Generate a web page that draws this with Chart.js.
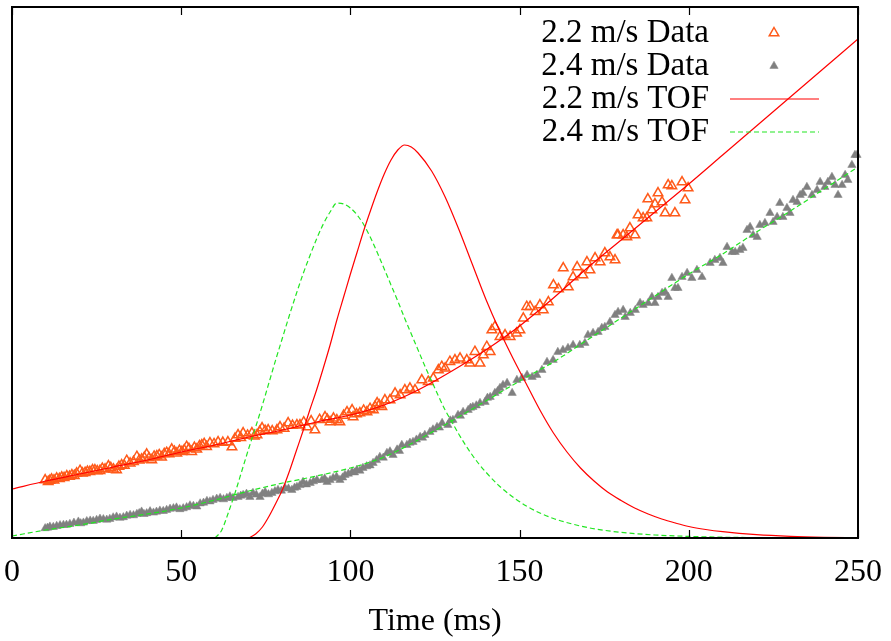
<!DOCTYPE html>
<html>
<head>
<meta charset="utf-8">
<script src="https://cdn.jsdelivr.net/npm/chart.js@4.4.1/dist/chart.umd.min.js"></script>
<style>
  html, body { margin: 0; padding: 0; background: #fff; }
  #c { display: block; }
</style>
</head>
<body>
<canvas id="c" width="891" height="641"></canvas>
<script>
// ---- tick labels / categories ----
const xTicks = [0, 50, 100, 150, 200, 250];
const xTitle = 'Time (ms)';
const seriesNames = ['2.2 m/s Data', '2.4 m/s Data', '2.2 m/s TOF', '2.4 m/s TOF'];

// ---- 2.2 m/s data (open triangles) ----
const data22X = [9.8,10.7,11.2,11.7,12.4,13.2,14.0,14.7,15.4,16.2,17.0,17.7,18.4,19.1,20.1,20.8,21.6,22.3,23.0,23.8,24.5,25.2,26.0,26.7,27.5,28.5,29.2,30.0,30.9,31.6,32.4,33.2,33.9,34.9,35.9,36.9,37.6,38.3,39.1,39.8,40.5,41.3,42.0,42.8,43.5,44.2,45.0,45.7,46.4,47.2,48.0,48.7,49.5,50.2,50.9,51.6,52.3,53.1,53.9,54.6,55.4,56.1,56.8,57.5,58.5,59.7,60.9,62.3,63.8,65.0,65.9,66.8,67.6,68.3,69.6,70.9,71.6,72.4,73.2,73.9,74.8,75.7,76.9,78.3,79.2,80.4,81.6,82.9,84.2,85.1,86.2,87.2,88.4,89.5,90.9,92.5,93.2,94.0,95.0,96.0,96.9,98.0,99.0,100.5,100.8,101.8,102.8,103.9,104.9,105.8,106.8,107.3,107.9,108.5,109.3,110.2,111.7,113.2,114.7,116.1,117.6,119.1,121.1,123.0,124.5,126.0,127.0,128.0,129.4,130.9,132.4,134.4,135.3,136.8,138.3,139.3,140.3,141.3,141.8,142.7,144.2,145.7,147.2,149.1,150.1,151.1,152.1,153.1,154.6,156.0,157.0,158.5,160.0,161.5,162.9,164.4,165.8,167.0,168.7,169.9,170.8,172.3,173.8,175.2,176.7,178.2,178.8,179.1,180.6,181.7,182.6,184.1,185.0,186.5,187.6,187.9,189.1,190.0,190.9,192.1,193.0,193.9,195.0,195.9,198.0,198.9,199.8];
const data22Y = [58,56.3,57.5,58.7,57.8,59.7,59.2,60.7,60.2,62,61.5,63,62.3,64.7,67.3,64.8,65.3,66.5,66.3,67.9,68,67,67.3,69.5,68.7,72,70.2,68.7,68,71.5,73,72.4,77.3,74.7,76.2,81.3,77.8,78.7,80.5,83.7,79.9,78,81.6,82,83.1,80.7,84.2,85.3,84,88.7,86.5,84.7,87.4,86.3,88,91.3,89.2,86.3,90.5,88.7,92.1,93,94.2,91.3,95,94.1,96,95.4,96,91,99.4,103,100.2,105,102.6,105,101.8,103,106.4,110,107.3,108,106.9,108,111,109.6,115,112.4,113,113,115.8,111,116.9,108,118.3,121,118.5,116,119.7,118,116,122.4,126,128,121,123.9,125,127.6,126,129.3,128,131.5,135,133,131.3,138,138,144.7,143,148,149.7,148,158,156.3,159.7,168,171.3,169.7,176.3,178,179.7,178,174.7,186.3,174.7,183,191.3,186.3,208,211.3,201.3,203,201.3,204.7,208,219.7,231.3,231.3,226.3,233,228,236,253,249,270,251,261,271,263,276,268,280,276,285,281,278,303,303,303,301,310,303,323,320,320,339,328,334,345,336,325,353,352,325,356,338,350];

// ---- 2.4 m/s data (filled triangles) ----
const data24X = [9.8,10.5,11.2,12.2,13.2,14.2,15.2,16.1,17.1,18.3,19.6,20.3,21.1,22.1,23.1,24.0,25.0,26.0,27.0,28.0,28.9,29.9,30.9,31.9,32.9,33.9,34.9,35.9,36.9,37.6,38.3,39.0,39.8,40.8,41.8,42.7,43.7,44.7,45.7,46.7,47.7,48.6,49.6,50.6,51.6,52.6,53.6,54.6,55.6,56.6,57.6,58.5,59.4,60.5,61.5,62.5,63.5,64.4,65.3,66.8,67.6,68.3,69.3,70.3,71.2,72.2,73.3,74.0,74.8,75.8,76.8,77.7,78.6,79.6,80.7,81.7,82.7,83.5,84.2,85.1,86.0,87.0,88.1,89.1,90.1,91.6,92.4,93.1,94.0,94.9,95.9,96.9,97.7,98.4,99.4,100.5,101.2,101.9,102.8,103.7,104.8,105.8,106.7,107.7,108.7,109.7,110.8,111.7,112.6,113.8,114.5,115.2,116.7,117.6,118.5,119.5,120.6,121.3,122.0,123.5,124.4,125.6,126.3,127.1,128.8,129.5,130.3,131.8,132.5,133.3,134.8,135.5,136.2,137.2,138.3,139.8,140.5,141.3,142.7,143.5,144.2,145.1,146.3,147.8,149.2,150.7,152.2,153.7,155.1,156.6,158.1,159.9,161.3,162.8,164.3,165.8,167.8,169.3,170.2,171.7,173.2,174.3,175.2,176.7,178.2,179.1,180.6,181.2,182.7,184.2,185.6,186.5,188.0,189.1,190.0,190.9,192.1,193.0,193.9,195.0,195.9,196.8,198.0,199.5,200.9,202.4,203.9,206.3,207.7,209.2,210.1,211.3,212.8,213.7,215.1,216.0,217.2,218.1,219.0,220.2,221.0,222.5,224.0,224.9,226.1,226.9,227.8,229.0,229.9,230.8,232.0,232.9,233.7,234.9,236.4,237.9,238.8,240.2,241.1,242.3,243.2,244.1,245.3,246.2,247.0,248.2,249.1,249.7];
const data24Y = [9.7,10.2,11.3,11.0,12,12.7,13,13.1,14,15.2,16.3,14.6,15.3,16.8,17.3,17.0,18,19.2,18.7,18.2,19,20.5,21.3,20.1,20.7,22.2,23,22.6,24,24.8,26.3,23.9,24.7,26.6,25.3,26.2,27.3,26.9,28,29.1,29.7,30.4,28.7,29.6,30.7,32.5,32,31.4,34.5,35.2,37,36.5,38,39.2,40,38.6,40,41.5,40,41,42.2,43,44.1,41,45,43.3,41,44.2,46,43.6,45,46.6,48,47.2,50,49.4,48,50.2,51,52.8,56,53.5,55,56.6,58,58,59.4,56,57.8,60,61.2,58,60.4,63,64.2,66,65.5,68,67.2,70,71.6,72.5,75,77.8,81,80.2,85,86.5,83,88.4,87,93,93,95.2,96,98.3,101,100.2,103,106,108.5,111,110.3,115,113,117.4,118,123,122.1,126,128,130.2,131,132.5,135,136,140.1,141,145,146.8,150,153,155,145,158,160,163,161,163,168,176,178,186,188,190,193,193,195,203,205,206,210,211,216,223,226,228,221,225,228,235,233,235,241,235,241,245,246,241,260,250,250,261,265,260,268,261,275,278,280,275,291,286,286,288,290,308,311,303,301,313,315,325,316,321,335,321,330,325,338,336,343,345,351,343,348,356,351,356,361,353,343,353,363,358,373,383,383];

// ---- 2.2 m/s TOF curve (red solid) ----
const tof22X = [70,72,74,76,78,80,82,84,86,88,90,92,94,96,98,100,102,104,106,108,110,112,114,116,118,120,124,128,132,136,140,144,148,152,156,160,164,168,172,176,180,184,188,192,196,200,205,210,220,230,240,250];
const tof22Y = [0,4,11,22,35,49,67,87,107,128,148,170,193,218,241,264,286,308,328,347,364,378,388,393,391,385,367,341,309,274,239,208,180,154,128,105,86,70,57,46,37.5,30,24,19,15,11.5,8.5,6.3,3.3,1.6,0.7,0.3];

// ---- 2.4 m/s TOF curve (green dashed) ----
const tof24X = [60,62,64,66,68,70,72,74,76,78,80,82,84,86,88,90,92,94,96,98,100,102,104,106,108,110,112,114,116,118,120,122,124,126,128,130,132,134,136,138,140,144,148,152,156,160,165,170,175,180,190,200,210,225,250];
const tof24Y = [0,8,26,46,68,90,111,133,156,179,201,223,244,264,282,299,314,326,335,334,330,323,313,300,285,269,253,237,220,204,188,172,157,142,128,116,104,93,83,74,66,52,41,32,25,19.5,14.5,10.5,7.7,5.6,3,1.6,0.8,0.3,0];

// ---- fitted trends drawn with the TOF line styles ----
const fit22X = [0,10,20,30,40,50,60,70,80,90,100,110,120,130,140,150,160,170,180,190,200,210,220,230,240,250];
const fit22Y = [49,57,64,71,78,86,93,101,108,116,123,133,148,167,188,212,240,270,298,326,354,383,412,441,470,499];
const fit24X = [0,10,20,30,40,50,60,70,80,90,100,105,110,115,120,125,130,140,150,160,170,180,190,200,210,220,230,240,250];
const fit24Y = [2,8,13,19,24,30,38,47,55,62,70,75,81,89,98,107.5,117,137,157,176,198,220,242,264,284,306,327,349,371];

const pts = (xs, ys) => xs.map((x, i) => ({x, y: ys[i]}));

const ORANGE = '#ff5a1a', GRAY = '#808080', RED = '#ff0000', GREEN = '#22e622';
const FONT = '"Liberation Serif", "Times New Roman", serif';

const frame = {
  id: 'frame',
  afterDatasetsDraw(chart) {
    const {ctx, chartArea: a, scales: {x}} = chart;
    ctx.save();
    ctx.strokeStyle = '#000';
    ctx.lineWidth = 1.2;
    x.ticks.forEach(t => {
      const px = Math.round(x.getPixelForValue(t.value)) + 0.5;
      ctx.beginPath();
      ctx.moveTo(px, a.bottom); ctx.lineTo(px, a.bottom - 8);
      ctx.moveTo(px, a.top); ctx.lineTo(px, a.top + 8);
      ctx.stroke();
    });
    ctx.lineWidth = 2;
    ctx.strokeRect(a.left, a.top, a.right - a.left, a.bottom - a.top);
    ctx.restore();
  }
};

const keyBox = {
  id: 'keyBox',
  afterDraw(chart) {
    const ctx = chart.ctx;
    const ds = chart.data.datasets;
    const rows = [33, 66, 99, 132];
    const textRight = 709, symX = 774, lineL = 730, lineR = 819;
    ctx.save();
    ctx.font = '33px ' + FONT;
    ctx.fillStyle = '#000';
    ctx.textAlign = 'right';
    ctx.textBaseline = 'middle';
    seriesNames.forEach((name, i) => ctx.fillText(name, textRight, rows[i]));
    const d22 = ds.find(d => d.label === seriesNames[0]);
    const d24 = ds.find(d => d.label === seriesNames[1]);
    ctx.strokeStyle = d22.borderColor; ctx.fillStyle = d22.backgroundColor; ctx.lineWidth = d22.borderWidth;
    Chart.helpers.drawPoint(ctx, {pointStyle: 'triangle', radius: d22.pointRadius, borderWidth: d22.borderWidth, rotation: 0}, symX, rows[0]);
    ctx.strokeStyle = d24.borderColor; ctx.fillStyle = d24.backgroundColor; ctx.lineWidth = d24.borderWidth;
    Chart.helpers.drawPoint(ctx, {pointStyle: 'triangle', radius: d24.pointRadius, borderWidth: d24.borderWidth, rotation: 0}, symX, rows[1]);
    const t22 = ds.find(d => d.label === seriesNames[2]);
    const t24 = ds.find(d => d.label === seriesNames[3]);
    ctx.lineWidth = t22.borderWidth; ctx.strokeStyle = t22.borderColor; ctx.setLineDash([]);
    ctx.beginPath(); ctx.moveTo(lineL, rows[2]); ctx.lineTo(lineR, rows[2]); ctx.stroke();
    ctx.lineWidth = t24.borderWidth; ctx.strokeStyle = t24.borderColor; ctx.setLineDash(t24.borderDash);
    ctx.beginPath(); ctx.moveTo(lineL, rows[3]); ctx.lineTo(lineR, rows[3]); ctx.stroke();
    ctx.restore();
  }
};

const lineDs = (label, xs, ys, color, dash) => ({
  type: 'line', label, data: pts(xs, ys),
  borderColor: color, backgroundColor: color, borderWidth: 1.2,
  borderDash: dash, pointRadius: 0, fill: false,
  cubicInterpolationMode: 'monotone', showLine: true
});

new Chart(document.getElementById('c'), {
  type: 'scatter',
  data: {
    datasets: [
      lineDs(seriesNames[2], tof22X, tof22Y, RED, []),
      lineDs('fit22', fit22X, fit22Y, RED, []),
      lineDs(seriesNames[3], tof24X, tof24Y, GREEN, [5, 3]),
      lineDs('fit24', fit24X, fit24Y, GREEN, [5, 3]),
      {
        label: seriesNames[0], data: pts(data22X, data22Y),
        pointStyle: 'triangle', pointRadius: 5.5, borderWidth: 1.5,
        borderColor: ORANGE, backgroundColor: 'rgba(255,255,255,0)', showLine: false, clip: false
      },
      {
        label: seriesNames[1], data: pts(data24X, data24Y),
        pointStyle: 'triangle', pointRadius: 4.8, borderWidth: 0.5,
        borderColor: GRAY, backgroundColor: GRAY, showLine: false, clip: false
      }
    ]
  },
  options: {
    responsive: false,
    animation: false,
    devicePixelRatio: 1,
    layout: { padding: { left: 12, right: 33, top: 7, bottom: 0 } },
    plugins: { legend: { display: false }, tooltip: { enabled: false } },
    scales: {
      x: {
        type: 'linear', min: 0, max: 250,
        afterBuildTicks: s => { s.ticks = xTicks.map(v => ({ value: v })); },
        afterFit: s => { s.height = 103; s.paddingLeft = 0; s.paddingRight = 0; },
        grid: { display: false, drawTicks: false },
        border: { display: false },
        ticks: { color: '#000', font: { family: FONT, size: 32 }, padding: 15, maxRotation: 0 },
        title: { display: true, text: xTitle, color: '#000', font: { family: FONT, size: 32 }, padding: { top: 0, bottom: 0 } }
      },
      y: {
        type: 'linear', min: 0, max: 531, display: false
      }
    }
  },
  plugins: [frame, keyBox]
});
</script>
</body>
</html>
